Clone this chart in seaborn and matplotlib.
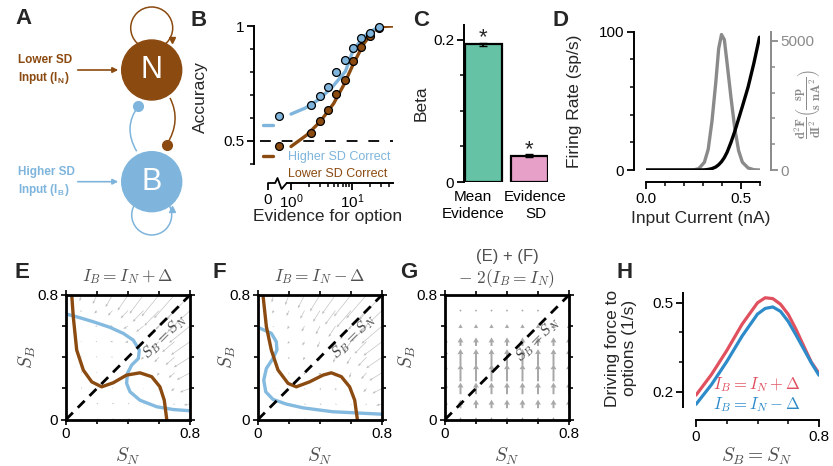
import numpy as np
import pandas as pd
import matplotlib
matplotlib.use('Agg')
import matplotlib.pyplot as plt
import seaborn as sns
import matplotlib.transforms as mtransforms
from matplotlib.patches import Circle, PathPatch
from matplotlib.path import Path
from matplotlib.ticker import NullFormatter

# ---------------- data ----------------
# B: accuracy vs evidence
evidence = [2.13, 2.95, 4.04, 5.53, 7.59, 10.4, 14.3, 19.5, 27.5]
acc_high = [0.658, 0.694, 0.733, 0.799, 0.853, 0.905, 0.948, 0.971, 0.996]
acc_low = [0.535, 0.588, 0.636, 0.706, 0.767, 0.846, 0.909, 0.957, 0.99]
zero_evidence = 0.64          # where the "0 evidence" points sit on the broken axis
zero_acc_high = 0.607
zero_acc_low = 0.477
zero_fit_high = 0.571
zero_fit_low = 0.433
fit_high_x = [1.0, 1.7, 2.85, 4.7, 7.8, 10.6, 17.7, 25.0]
fit_high_y = [0.617, 0.643, 0.68, 0.733, 0.803, 0.90, 0.967, 0.99]
fit_low_x = [1.0, 1.81, 3.0, 5.0, 7.3, 10.6, 15.6, 22.8, 33.3, 47.0]
fit_low_y = [0.476, 0.526, 0.584, 0.663, 0.743, 0.837, 0.923, 0.981, 0.998, 1.0]

# C: regression betas
beta_terms = ['Mean\nEvidence', 'Evidence\nSD']
beta_vals = [0.194, 0.037]
beta_sem = [0.002, 0.002]

# D: f-I curve and its second derivative
current_nA = [0.0, 0.1, 0.2, 0.25, 0.28, 0.31, 0.33, 0.35, 0.37, 0.385, 0.40,
              0.415, 0.43, 0.45, 0.47, 0.49, 0.51, 0.54, 0.57, 0.60]
rate = [0, 0, 0, 0, 0, 0.1, 0.4, 1.0, 2.2, 3.8, 6, 9, 13, 20, 28, 37, 46, 60, 77, 96]
d2f = [0, 0, 0, 0, 50, 300, 800, 1900, 3400, 4700, 5250, 5050, 4100, 2800,
       1600, 750, 300, 80, 10, 0]

# E/F: nullclines
e_blue_sn = [0, 0.069, 0.176, 0.284, 0.37, 0.434, 0.473, 0.467, 0.424, 0.396,
             0.391, 0.413, 0.477, 0.585, 0.692, 0.8]
e_blue_sb = [0.678, 0.66, 0.628, 0.592, 0.553, 0.51, 0.446, 0.392, 0.35, 0.296,
             0.232, 0.178, 0.124, 0.082, 0.064, 0.056]
e_brown_sn = [0.037, 0.047, 0.069, 0.112, 0.166, 0.23, 0.305, 0.39, 0.477, 0.553,
              0.606, 0.634, 0.65]
e_brown_sb = [0.80, 0.66, 0.446, 0.317, 0.242, 0.21, 0.236, 0.285, 0.30, 0.275,
              0.21, 0.124, 0.0]
f_blue_sn = [0, 0.086, 0.118, 0.122, 0.097, 0.054, 0.037, 0.05, 0.097, 0.183,
             0.29, 0.48, 0.8]
f_blue_sb = [0.592, 0.554, 0.5, 0.446, 0.393, 0.328, 0.253, 0.178, 0.129, 0.099,
             0.075, 0.05, 0.034]
f_brown_sn = [0.032, 0.054, 0.086, 0.129, 0.194, 0.247, 0.333, 0.419, 0.473,
              0.538, 0.591, 0.624, 0.641]
f_brown_sb = [0.8, 0.597, 0.446, 0.318, 0.232, 0.21, 0.242, 0.285, 0.30, 0.275,
              0.21, 0.124, 0.0]

# E/F/G: flow field (rows = S_B 0..0.8, cols = S_N 0..0.8)
grid_s = [0, 0.1, 0.2, 0.3, 0.4, 0.5, 0.6, 0.7, 0.8]
e_dsn = [[0.2, 0.3, 0.4, 0.5, 0.5, 0.4, 0.2, -0.2, -1.0],
         [0.15, 0.25, 0.35, 0.4, 0.4, 0.3, 0.1, -0.4, -1.6],
         [0.1, 0.15, 0.05, 0.15, 0.2, 0.1, -0.2, -0.9, -2.6],
         [0.05, -0.05, -0.15, -0.1, -0.05, -0.15, -0.5, -1.5, -3.4],
         [0.0, -0.1, -0.3, -0.4, -0.5, -0.7, -1.2, -2.3, -4.2],
         [0.0, -0.2, -0.4, -0.6, -0.8, -1.2, -2.0, -3.2, -4.9],
         [0.0, -0.2, -0.5, -0.8, -1.2, -1.9, -2.9, -4.0, -5.4],
         [0.0, -0.3, -0.7, -1.2, -1.9, -2.8, -3.8, -4.8, -5.8],
         [0.0, -0.5, -1.1, -1.8, -2.7, -3.6, -4.5, -5.3, -6.0]]
e_dsb = [[0.2, 0.2, 0.2, 0.2, 0.2, 0.1, 0.05, 0.05, 0.0],
         [0.3, 0.3, 0.3, 0.3, 0.2, 0.0, -0.1, -0.2, -0.3],
         [0.35, 0.35, 0.35, 0.3, 0.1, -0.2, -0.4, -0.7, -1.0],
         [0.35, 0.35, 0.3, 0.25, 0.0, -0.4, -0.8, -1.3, -1.8],
         [0.3, 0.3, 0.25, 0.15, 0.0, -0.6, -1.3, -2.0, -2.6],
         [0.2, 0.2, 0.1, 0.0, -0.2, -0.9, -1.8, -2.7, -3.4],
         [0.1, 0.05, -0.05, -0.3, -0.7, -1.5, -2.6, -3.6, -4.3],
         [-0.2, -0.4, -0.8, -1.3, -2.0, -2.9, -3.9, -4.8, -5.4],
         [-1.0, -1.6, -2.3, -3.1, -4.0, -4.8, -5.5, -6.0, -6.3]]
f_dsn = [[0.25, 0.35, 0.45, 0.55, 0.55, 0.45, 0.25, -0.15, -0.9],
         [0.2, 0.3, 0.4, 0.45, 0.45, 0.35, 0.15, -0.3, -1.5],
         [0.1, 0.2, 0.1, 0.2, 0.25, 0.15, -0.15, -0.8, -2.5],
         [0.05, -0.03, -0.1, -0.05, 0.0, -0.1, -0.45, -1.4, -3.3],
         [0.0, -0.1, -0.25, -0.35, -0.45, -0.65, -1.1, -2.2, -4.1],
         [0.0, -0.15, -0.35, -0.55, -0.75, -1.1, -1.9, -3.1, -4.8],
         [0.0, -0.2, -0.45, -0.75, -1.1, -1.8, -2.8, -3.9, -5.3],
         [0.0, -0.3, -0.65, -1.1, -1.8, -2.7, -3.7, -4.7, -5.7],
         [0.0, -0.45, -1.0, -1.7, -2.6, -3.5, -4.4, -5.2, -5.9]]
f_dsb = [[0.15, 0.15, 0.15, 0.15, 0.1, 0.1, 0.05, 0.05, 0.0],
         [0.2, 0.1, -0.05, -0.1, -0.15, -0.2, -0.25, -0.3, -0.4],
         [0.2, -0.05, -0.2, -0.35, -0.5, -0.6, -0.8, -1.0, -1.3],
         [0.15, -0.1, -0.35, -0.6, -0.8, -1.0, -1.3, -1.6, -2.0],
         [0.2, 0.05, -0.5, -0.8, -1.1, -1.4, -1.8, -2.3, -2.8],
         [0.1, 0.0, -0.6, -1.0, -1.5, -2.0, -2.6, -3.1, -3.6],
         [-0.05, -0.3, -0.8, -1.4, -2.1, -2.8, -3.4, -4.0, -4.5],
         [-0.4, -0.8, -1.4, -2.1, -2.9, -3.6, -4.3, -4.9, -5.4],
         [-1.2, -1.9, -2.6, -3.4, -4.2, -4.9, -5.5, -6.0, -6.4]]
g_rows_sb = [0, 0.1, 0.2, 0.3, 0.4, 0.5, 0.6, 0.7]
g_dsb = [0.03, 0.055, 0.075, 0.11, 0.105, 0.055, 0.025, 0.01]

# H: driving force along the diagonal
h_s = [0, 0.1, 0.2, 0.3, 0.4, 0.45, 0.5, 0.55, 0.6, 0.65, 0.7, 0.75, 0.8]
h_plus = [0.189, 0.258, 0.339, 0.428, 0.50, 0.517, 0.514, 0.495, 0.461, 0.411, 0.355, 0.30, 0.262]
h_minus = [0.158, 0.224, 0.302, 0.388, 0.462, 0.481, 0.486, 0.471, 0.437, 0.392, 0.345, 0.298, 0.256]

# ---------------- style ----------------
sns.set_theme(style='ticks')
plt.rcParams['font.family'] = ['Liberation Sans', 'DejaVu Sans']
plt.rcParams['mathtext.fontset'] = 'cm'
plt.rcParams['axes.edgecolor'] = 'black'
plt.rcParams['xtick.color'] = 'black'
plt.rcParams['ytick.color'] = 'black'
plt.rcParams['axes.linewidth'] = 1.4

brown = '#8b4a10'
lblue = '#7fb5dc'
nblue = '#84badf'
green = '#66c2a5'
pink = '#e7a1c9'
gray = '#8a8a8a'
red = '#e0505e'
hblue = '#2e8bc9'
mgray = '#505050'

W, H = 833, 466
fig = plt.figure(figsize=(W / 100, H / 100), dpi=100)


def add_ax(x0, y0, x1, y1):
    return fig.add_axes([x0 / W, 1 - y1 / H, (x1 - x0) / W, (y1 - y0) / H])


def ptext(x, y, s, **kw):
    kw.setdefault('ha', 'center')
    kw.setdefault('va', 'center')
    return fig.text(x / W, 1 - y / H, s, **kw)


def px(p):  # pixels -> points
    return p * 0.72


TL = 11   # tick label size
AL = 12.5  # axis label size

# ---------------- A: circuit diagram ----------------
axA = add_ax(0, 0, 205, 240)
axA.set_xlim(0, 205)
axA.set_ylim(240, 0)
axA.axis('off')
for cy, fc in [(70, brown), (181.7, lblue)]:
    axA.add_patch(Circle((151.7, cy), 30, color=fc, zorder=3))
axA.add_patch(Circle((151.7, 28), 21, fill=False, ec=brown, lw=1.1, zorder=2))
axA.add_patch(Circle((151.7, 215), 20, fill=False, ec=lblue, lw=1.1, zorder=2))
axA.plot(171.5, 40, marker='v', color=brown, ms=5, zorder=4)
axA.plot(171.5, 209, marker='^', color=lblue, ms=5, zorder=4)
axA.text(151.7, 70, 'N', color='white', fontsize=22, ha='center', va='center', zorder=5)
axA.text(151.7, 181.7, 'B', color='white', fontsize=22, ha='center', va='center', zorder=5)
for verts, col in [([(170, 98), (181.7, 120.7), (166.7, 144.7)], brown),
                   ([(136.7, 151.3), (122.5, 127.2), (138.3, 106.3)], lblue)]:
    pth = Path(verts, [Path.MOVETO, Path.CURVE3, Path.CURVE3])
    axA.add_patch(PathPatch(pth, fc='none', ec=col, lw=1.1, zorder=2))
    axA.plot(*verts[-1], 'o', color=col, ms=7, zorder=4)
for yy, col, l1, l2 in [(70, brown, 'Lower SD', r'Input (I$_\mathregular{N}$)'),
                        (181.7, lblue, 'Higher SD', r'Input (I$_\mathregular{B}$)')]:
    axA.annotate('', xy=(121, yy), xytext=(75, yy),
                 arrowprops=dict(arrowstyle='-|>', color=col, lw=1.2, mutation_scale=8))
    axA.text(18, yy - 10, l1, color=col, fontsize=8.5, fontweight='bold', ha='left', va='center')
    axA.text(18, yy + 8, l2, color=col, fontsize=8.5, fontweight='bold', ha='left', va='center')

# ---------------- B: psychometric ----------------
axB = add_ax(260, 26, 393, 164)
axB.set_xscale('log')
axB.axhline(0.5, color='black', lw=1.3, ls=(0, (6, 6)), zorder=1)
sns.lineplot(x=fit_low_x, y=fit_low_y, ax=axB, color=brown, lw=2.4)
sns.lineplot(x=fit_high_x, y=fit_high_y, ax=axB, color=lblue, lw=2.4)
axB.plot([zero_evidence * 0.55, zero_evidence * 0.78], [zero_fit_high] * 2, color=lblue, lw=2.4)
axB.plot([zero_evidence * 0.55, zero_evidence * 0.78], [zero_fit_low] * 2, color=brown, lw=2.4)
sns.scatterplot(x=evidence + [zero_evidence], y=acc_low + [zero_acc_low], ax=axB,
                color=brown, edgecolor='black', s=32, linewidth=0.9, zorder=3, clip_on=False)
sns.scatterplot(x=evidence + [zero_evidence], y=acc_high + [zero_acc_high], ax=axB,
                color=lblue, edgecolor='black', s=32, linewidth=0.9, zorder=4, clip_on=False)
axB.set_xlim(0.31, 47)
axB.set_ylim(0.4, 1.0)
axB.spines[['top', 'right']].set_visible(False)
axB.spines['left'].set_position(('outward', px(6)))
axB.spines['bottom'].set_position(('outward', px(19)))
axB.spines['bottom'].set_bounds(0.85, 47)
axB.set_yticks([0.5, 1.0], ['0.5', '1'])
axB.set_yticks([0.4, 0.6, 0.7, 0.8, 0.9], minor=True)
axB.set_xticks([0.42, 1, 10], ['0', r'$\mathregular{10^0}$', r'$\mathregular{10^1}$'])
axB.set_xticks([2, 3, 4, 5, 6, 7, 8, 9, 20, 30, 40], minor=True)
axB.xaxis.set_minor_formatter(NullFormatter())
axB.tick_params(which='major', length=5, width=1.3, labelsize=TL, pad=2)
axB.tick_params(which='minor', length=3, width=1.1)
trB = mtransforms.blended_transform_factory(axB.transData, axB.transAxes)
yb = -19 / 138
axB.plot([0.42, 0.55, 0.6, 0.7, 0.85], [yb, yb, yb + 5 / 138, yb - 6 / 138, yb],
         transform=trB, color='black', lw=1.3, clip_on=False)
axB.set_xlabel('')
axB.set_ylabel('')
ptext(200, 97, 'Accuracy', rotation=90, fontsize=AL)
ptext(328, 217, 'Evidence for option', fontsize=AL)
ptext(288, 157, 'Higher SD Correct', color=lblue, fontsize=9, ha='left')
ptext(288, 174, 'Lower SD Correct', color=brown, fontsize=9, ha='left')

# ---------------- C: betas ----------------
axC = add_ax(464, 25, 548, 182)
dfC = pd.DataFrame({'term': beta_terms, 'beta': beta_vals})
sns.barplot(data=dfC, x='term', y='beta', hue='term', palette=[green, pink], ax=axC,
            width=0.8, edgecolor='black', linewidth=1.6, legend=False, errorbar=None,
            saturation=1)
axC.errorbar(range(len(beta_vals)), beta_vals, yerr=beta_sem, fmt='none',
             ecolor='black', elinewidth=1.5, capsize=3)
for i, v in enumerate(beta_vals):
    axC.text(i, v + 0.001, '*', ha='center', va='baseline', fontsize=16)
axC.set_xlim(-0.42, 1.41)
axC.set_ylim(0, 0.221)
axC.spines[['top', 'right', 'bottom']].set_visible(False)
axC.set_yticks([0, 0.2], ['0', '0.2'])
axC.set_yticks([0.05, 0.1, 0.15], minor=True)
axC.set_xticks([-0.22, 1.14], beta_terms)
axC.tick_params(axis='y', which='major', length=5, width=1.3, labelsize=TL, pad=2)
axC.tick_params(axis='y', which='minor', length=3, width=1.1)
axC.tick_params(axis='x', length=0, labelsize=TL, pad=6)
axC.set_xlabel('')
axC.set_ylabel('')
ptext(421, 103, 'Beta', rotation=90, fontsize=AL)

# ---------------- D: f-I curve ----------------
axD = add_ax(645.5, 31.7, 759.5, 170)
axD2 = axD.twinx()
sns.lineplot(x=current_nA, y=d2f, ax=axD2, color=gray, lw=2.4)
sns.lineplot(x=current_nA, y=rate, ax=axD, color='black', lw=2.4)
axD.set_zorder(axD2.get_zorder() + 1)
axD.patch.set_visible(False)
axD.set_xlim(0, 0.6)
axD.set_ylim(0, 100)
axD2.set_ylim(0, 5360)
axD.spines[['top', 'right']].set_visible(False)
axD.spines['left'].set_position(('outward', px(11.5)))
axD.spines['bottom'].set_position(('outward', px(12)))
axD.spines['bottom'].set_bounds(0, 0.6)
axD2.spines[['top', 'left', 'bottom']].set_visible(False)
axD2.spines['right'].set_position(('outward', px(11)))
axD2.spines['right'].set_color(gray)
axD2.spines['right'].set_linewidth(1.4)
axD.set_yticks([0, 100], ['0', '100'])
axD.set_yticks([20, 40, 60, 80], minor=True)
axD.set_xticks([0, 0.5], ['0.0', '0.5'])
axD.set_xticks([0.1, 0.2, 0.3, 0.4, 0.6], minor=True)
axD2.set_yticks([0, 5000], ['0', '5000'])
axD2.set_yticks([1000, 2000, 3000, 4000], minor=True)
axD.tick_params(which='major', length=5, width=1.3, labelsize=TL, pad=2)
axD.tick_params(which='minor', length=3, width=1.1)
axD2.tick_params(which='major', length=5, width=1.3, labelsize=TL, pad=2, colors=gray)
axD2.tick_params(which='minor', length=3, width=1.1, colors=gray)
for a in (axD, axD2):
    a.set_xlabel('')
    a.set_ylabel('')
ptext(575, 101, 'Firing Rate (sp/s)', rotation=90, fontsize=AL)
ptext(701, 218, 'Input Current (nA)', fontsize=AL)
ptext(808, 104, r'$\dfrac{\mathbf{d^2F}}{\mathbf{dI^2}}\left(\dfrac{\mathbf{sp}}{\mathbf{s\ nA^2}}\right)$',
      rotation=90, fontsize=9, color=gray)


# ---------------- E, F, G: phase planes ----------------
def phase_axes(x0, ylab_x):
    ax = add_ax(x0, 295, x0 + 124, 419.5)
    ax.set_xlim(0, 0.8)
    ax.set_ylim(0, 0.8)
    for s in ax.spines.values():
        s.set_linewidth(2)
    ax.set_xticks([0, 0.8], ['0', '0.8'])
    ax.set_yticks([0, 0.8], ['0', '0.8'])
    ax.set_xticks([0.2, 0.4, 0.6], minor=True)
    ax.set_yticks([0.2, 0.4, 0.6], minor=True)
    ax.tick_params(which='both', direction='out', top=True, right=True, width=1.2)
    ax.tick_params(which='major', length=3.5, labelsize=TL, pad=2)
    ax.tick_params(which='minor', length=3)
    ax.axline((0, 0), slope=1, color='black', ls=(0, (3.5, 2.5)), lw=2, zorder=3)
    ptext(x0 + 62, 456, r'$S_N$', fontsize=14, color=mgray)
    ptext(ylab_x, 357, r'$S_B$', fontsize=14, color=mgray, rotation=90)
    return ax


SN, SB = np.meshgrid(grid_s, grid_s)
for x0, ylx, dsn, dsb, bsn, bsb, wsn, wsb, title, lx in [
        (66, 27, e_dsn, e_dsb, e_blue_sn, e_blue_sb, e_brown_sn, e_brown_sb,
         r'$I_B = I_N + \Delta$', 0.64),
        (258, 227, f_dsn, f_dsb, f_blue_sn, f_blue_sb, f_brown_sn, f_brown_sb,
         r'$I_B = I_N - \Delta$', 0.62)]:
    ax = phase_axes(x0, ylx)
    ax.quiver(SN, SB, np.array(dsn), np.array(dsb), color='#bdbdbd', angles='xy',
              scale_units='xy', scale=40, width=0.005, headwidth=4, headlength=5,
              headaxislength=4.5, zorder=1)
    sns.lineplot(x=bsn, y=bsb, sort=False, estimator=None, ax=ax, color=nblue, lw=2.4, zorder=2)
    sns.lineplot(x=wsn, y=wsb, sort=False, estimator=None, ax=ax, color=brown, lw=2.4, zorder=2)
    ax.text(lx, 0.53, r'$S_B = S_N$', rotation=45, ha='center', va='center',
            fontsize=11, color='#404040', zorder=4)
    ax.set_xlabel('')
    ax.set_ylabel('')
    ptext(x0 + 62, 277, title, fontsize=12.5, color=mgray)

axG = phase_axes(445, 407)
GN, GB = np.meshgrid(grid_s, g_rows_sb)
GV = np.tile(np.array(g_dsb)[:, None], (1, len(grid_s)))
axG.quiver(GN, GB, np.zeros_like(GV), GV, color='#a8a8a8', angles='xy',
           scale_units='xy', scale=1, pivot='mid', width=0.016, headwidth=3,
           headlength=2.6, headaxislength=2.4, zorder=1)
axG.text(0.6, 0.51, r'$S_B = S_N$', rotation=45, ha='center', va='center',
         fontsize=11, color='#404040', zorder=4)
ptext(507, 257, '(E) + (F)', fontsize=12, color=mgray)
ptext(507, 279, r'$-\ 2(I_B = I_N)$', fontsize=12.5, color=mgray)

# ---------------- H: driving force ----------------
axH = add_ax(696, 293, 819, 406.7)
sns.lineplot(x=h_s, y=h_plus, ax=axH, color=red, lw=2.3)
sns.lineplot(x=h_s, y=h_minus, ax=axH, color=hblue, lw=2.3)
axH.set_xlim(0, 0.8)
axH.set_ylim(0.15, 0.533)
axH.spines[['top', 'right']].set_visible(False)
axH.spines['left'].set_position(('outward', px(13)))
axH.spines['bottom'].set_position(('outward', px(13.3)))
axH.set_yticks([0.2, 0.5], ['0.2', '0.5'])
axH.set_yticks([0.3, 0.4], minor=True)
axH.set_xticks([0, 0.8], ['0', '0.8'])
axH.set_xticks([0.2, 0.4, 0.6], minor=True)
axH.tick_params(which='major', length=5, width=1.3, labelsize=TL, pad=2)
axH.tick_params(which='minor', length=3, width=1.1)
axH.set_xlabel('')
axH.set_ylabel('')
ptext(757, 385, r'$I_B = I_N + \Delta$', fontsize=12, color=red)
ptext(757, 405, r'$I_B = I_N - \Delta$', fontsize=12, color=hblue)
ptext(757, 456, r'$S_B = S_N$', fontsize=14, color=mgray)
ptext(621, 348, 'Driving force to\noptions (1/s)', rotation=90, fontsize=AL, linespacing=1.1)

# ---------------- panel letters ----------------
for lab, x, y in [('A', 15, 18), ('B', 190, 20), ('C', 413, 20), ('D', 553, 20),
                  ('E', 15, 272), ('F', 212, 272), ('G', 400, 272), ('H', 617, 272)]:
    ptext(x, y, lab, fontsize=16, fontweight='bold', ha='left')

fig.savefig('out.png', dpi=100)
